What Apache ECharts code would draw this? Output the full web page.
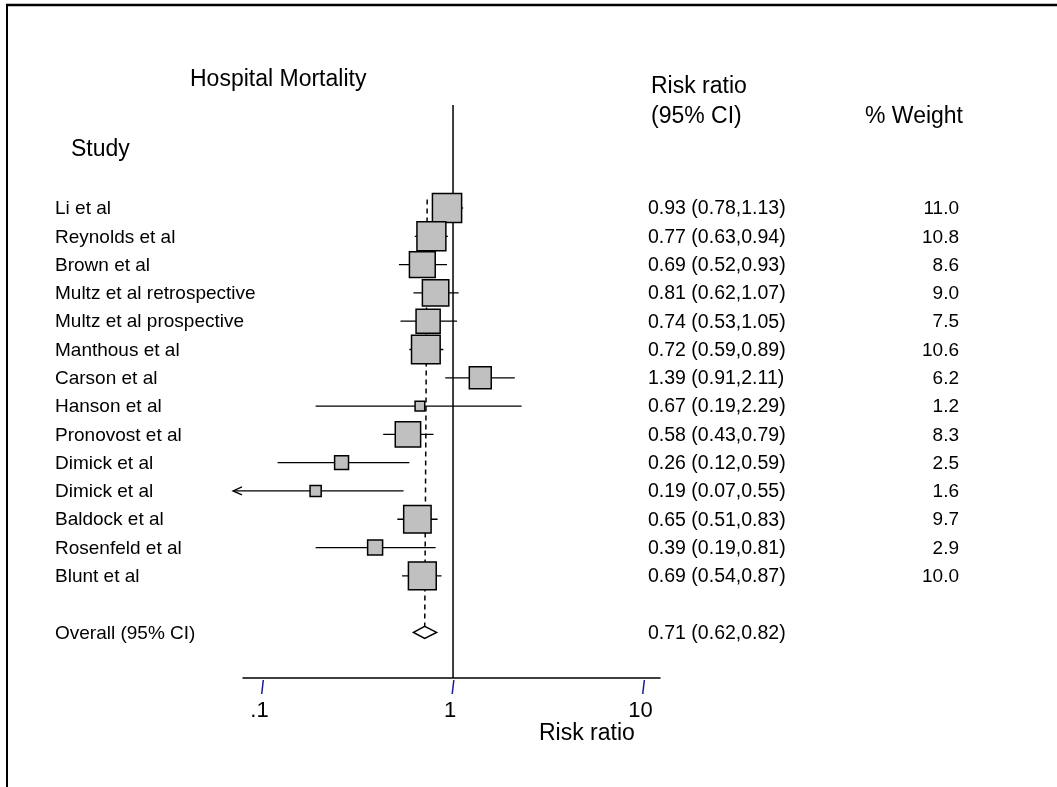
<!DOCTYPE html>
<html>
<head>
<meta charset="utf-8">
<script src="https://cdn.jsdelivr.net/npm/echarts@6/dist/echarts.min.js"></script>
<style>
html,body{margin:0;padding:0;background:#fff;}
#chart{width:1057px;height:787px;}
</style>
</head>
<body>
<div id="chart"></div>
<script>
// ---------- data ----------
var studies = ['Li et al','Reynolds et al','Brown et al','Multz et al retrospective','Multz et al prospective',
  'Manthous et al','Carson et al','Hanson et al','Pronovost et al','Dimick et al','Dimick et al',
  'Baldock et al','Rosenfeld et al','Blunt et al'];
var riskRatio = [0.93,0.77,0.69,0.81,0.74,0.72,1.39,0.67,0.58,0.26,0.19,0.65,0.39,0.69];
var ciLow     = [0.78,0.63,0.52,0.62,0.53,0.59,0.91,0.19,0.43,0.12,0.07,0.51,0.19,0.54];
var ciHigh    = [1.13,0.94,0.93,1.07,1.05,0.89,2.11,2.29,0.79,0.59,0.55,0.83,0.81,0.87];
var weights   = [11.0,10.8,8.6,9.0,7.5,10.6,6.2,1.2,8.3,2.5,1.6,9.7,2.9,10.0];
var overallLabel = 'Overall (95% CI)';
var overallRR = 0.71, overallLow = 0.62, overallHigh = 0.82;
var overallRow = 15;
var tickValues = [0.1, 1, 10];
var tickLabels = ['.1', '1', '10'];

// ---------- layout ----------
var X_MIN = 0.0790, X_MAX = 12.2;
var Y_MIN = -3.64, Y_MAX = 16.61;
var FONT = '"Liberation Sans", Arial, sans-serif';
function fmt2(v){ return v.toFixed(2); }

var rowData = studies.map(function(s, i){
  return [i, riskRatio[i], ciLow[i], ciHigh[i], weights[i]];
});

var chart = echarts.init(document.getElementById('chart'), null, {renderer:'canvas'});

var option = {
  animation: false,
  backgroundColor: '#fff',
  grid: {left: 243, right: 397, top: 105, bottom: 109, containLabel: false},
  xAxis: {
    type: 'log', logBase: 10, min: X_MIN, max: X_MAX,
    axisLine: {show: true, onZero: false, lineStyle: {color: '#000', width: 1.5}},
    axisTick: {show: false}, axisLabel: {show: false}, splitLine: {show: false}
  },
  yAxis: {type: 'value', inverse: true, min: Y_MIN, max: Y_MAX, show: false},
  graphic: [
    {type:'line', shape:{x1:6,y1:5,x2:1057,y2:5}, style:{stroke:'#000', lineWidth:2.5}},
    {type:'line', shape:{x1:7,y1:5,x2:7,y2:787}, style:{stroke:'#000', lineWidth:2}},
    {type:'text', left:190, top:68, style:{text:'Hospital Mortality', font:'23px ' + FONT, fill:'#000'}},
    {type:'text', left:651, top:75, style:{text:'Risk ratio', font:'23px ' + FONT, fill:'#000'}},
    {type:'text', left:651, top:105, style:{text:'(95% CI)', font:'23px ' + FONT, fill:'#000'}},
    {type:'text', left:865, top:105, style:{text:'% Weight', font:'23px ' + FONT, fill:'#000'}},
    {type:'text', left:71, top:138, style:{text:'Study', font:'23px ' + FONT, fill:'#000'}},
    {type:'text', left:539, top:722, style:{text:'Risk ratio', font:'23px ' + FONT, fill:'#000'}}
  ],
  series: [
    // reference line at 1
    {
      type: 'custom', clip: false, silent: true,
      data: [[1]],
      renderItem: function(params, api){
        var a = api.coord([api.value(0), Y_MIN]);
        var b = api.coord([api.value(0), Y_MAX]);
        return {type:'line', shape:{x1:a[0],y1:a[1],x2:b[0],y2:b[1]}, style:{stroke:'#000', lineWidth:1.5}};
      }
    },
    // dashed line at overall estimate
    {
      type: 'custom', clip: false, silent: true,
      data: [[overallRR]],
      renderItem: function(params, api){
        var a = api.coord([api.value(0), -0.3]);
        var b = api.coord([api.value(0), overallRow]);
        return {type:'line', shape:{x1:a[0]+2.5,y1:a[1],x2:b[0],y2:b[1]}, style:{stroke:'#000', lineWidth:1.5, lineDash:[5,4]}};
      }
    },
    // study CIs and boxes
    {
      type: 'custom', clip: false, silent: true,
      data: rowData,
      encode: {x: 1, y: 0},
      renderItem: function(params, api){
        var row = api.value(0), rr = api.value(1), lo = api.value(2), hi = api.value(3), w = api.value(4);
        var c = api.coord([rr, row]);
        var pl = api.coord([lo, row]);
        var ph = api.coord([hi, row]);
        var side = 8.8 * Math.sqrt(w);
        var children = [
          {type:'line', shape:{x1:pl[0],y1:c[1],x2:ph[0],y2:c[1]}, style:{stroke:'#000', lineWidth:1.3}}
        ];
        if (lo < X_MIN) {
          children.push({type:'polyline', shape:{points:[[pl[0]+9,c[1]-4],[pl[0],c[1]],[pl[0]+9,c[1]+4]]},
            style:{stroke:'#000', lineWidth:1.3, fill:null}});
        }
        children.push({type:'rect', shape:{x:c[0]-side/2, y:c[1]-side/2, width:side, height:side},
          style:{fill:'#c0c0c0', stroke:'#000', lineWidth:1.5}});
        return {type:'group', children: children};
      }
    },
    // overall diamond
    {
      type: 'custom', clip: false, silent: true,
      data: [[overallRow, overallRR, overallLow, overallHigh]],
      renderItem: function(params, api){
        var row = api.value(0);
        var c = api.coord([api.value(1), row]);
        var l = api.coord([api.value(2), row]);
        var h = api.coord([api.value(3), row]);
        return {type:'polygon', shape:{points:[[l[0],c[1]],[c[0],c[1]-6],[h[0],c[1]],[c[0],c[1]+6]]},
          style:{fill:'#fff', stroke:'#000', lineWidth:1.5}};
      }
    },
    // text columns
    {
      type: 'custom', clip: false, silent: true,
      data: rowData.concat([[overallRow, overallRR, overallLow, overallHigh, null]]),
      renderItem: function(params, api){
        var idx = params.dataIndex;
        var row = api.value(0);
        var y = api.coord([1, row])[1] + 1;
        var isOverall = idx >= studies.length;
        var label = isOverall ? overallLabel : studies[idx];
        var rr = isOverall ? overallRR : riskRatio[idx];
        var lo = isOverall ? overallLow : ciLow[idx];
        var hi = isOverall ? overallHigh : ciHigh[idx];
        var children = [
          {type:'text', x:55, y:y, style:{text:label, font:'19px ' + FONT, fill:'#000', textAlign:'left', textVerticalAlign:'middle'}},
          {type:'text', x:648, y:y, style:{text:fmt2(rr) + ' (' + fmt2(lo) + ',' + fmt2(hi) + ')', font:'19.5px ' + FONT, fill:'#000', textAlign:'left', textVerticalAlign:'middle'}}
        ];
        if (!isOverall) {
          children.push({type:'text', x:959, y:y, style:{text:weights[idx].toFixed(1), font:'19px ' + FONT, fill:'#000', textAlign:'right', textVerticalAlign:'middle'}});
        }
        return {type:'group', children: children};
      }
    },
    // axis ticks and labels
    {
      type: 'custom', clip: false, silent: true,
      data: tickValues.map(function(v, i){ return [v, i]; }),
      renderItem: function(params, api){
        var p = api.coord([api.value(0), Y_MAX]);
        var lbl = tickLabels[api.value(1)];
        return {type:'group', children:[
          {type:'line', shape:{x1:p[0]+0.8,y1:p[1]+2,x2:p[0]-0.8,y2:p[1]+16}, style:{stroke:'#1a1a99', lineWidth:1.5}},
          {type:'text', x:p[0]-3, y:p[1]+33, style:{text:lbl, font:'22px ' + FONT, fill:'#000', textAlign:'center', textVerticalAlign:'middle'}}
        ]};
      }
    }
  ]
};
chart.setOption(option);
</script>
</body>
</html>
